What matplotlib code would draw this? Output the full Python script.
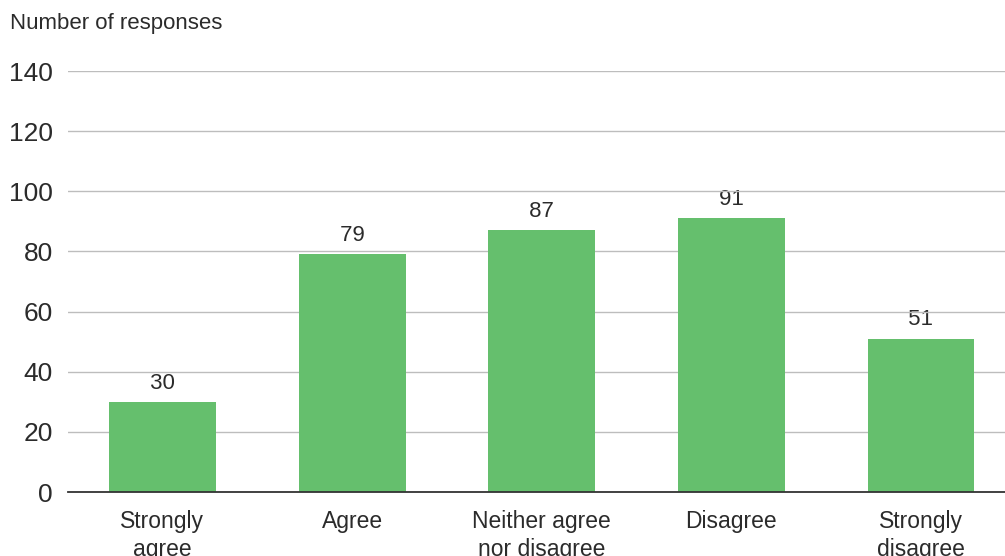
import matplotlib
matplotlib.use('Agg')
import matplotlib.pyplot as plt

plt.rcParams['font.family'] = ['Liberation Sans', 'DejaVu Sans']

# Data
categories = ['Strongly\nagree', 'Agree', 'Neither agree\nnor disagree', 'Disagree', 'Strongly\ndisagree']
responses = [30, 79, 87, 91, 51]
yticks = [0, 20, 40, 60, 80, 100, 120, 140]

green = '#65bf6d'
text_col = '#2b2b2b'

fig = plt.figure(figsize=(10.05, 5.56), dpi=100)
ax = fig.add_axes([0.0677, 0.1151, 0.9323, 0.7572])

x = list(range(len(categories)))
bars = ax.bar(x, responses, width=0.564, color=green, zorder=2)

ax.set_xlim(-0.498, 4.443)
ax.set_ylim(0, 140)
ax.set_yticks(yticks)
ax.set_xticks(x)
ax.set_xticklabels(categories, fontsize=16.5, color=text_col, linespacing=1.3)
ax.tick_params(axis='x', length=0, pad=13)
ax.tick_params(axis='y', length=0, pad=11, labelsize=19, labelcolor=text_col)

ax.grid(axis='y', color='#bdbdbd', linewidth=1, zorder=0)
for s in ['top', 'right', 'left']:
    ax.spines[s].set_visible(False)
ax.spines['bottom'].set_color('#333333')
ax.spines['bottom'].set_linewidth(1.3)
ax.spines['bottom'].set_zorder(3)

# value labels with white box so gridlines break around them
for xi, v in zip(x, responses):
    ax.annotate(' %d ' % v, (xi, v), xytext=(0, 13.5), textcoords='offset points',
                ha='center', va='center', fontsize=16, color=text_col, zorder=1,
                bbox=dict(boxstyle='square,pad=0.15', fc='white', ec='none'))

fig.text(0.01, 0.958, 'Number of responses', fontsize=16, color=text_col,
         ha='left', va='center')

fig.savefig('out.png', dpi=100)
